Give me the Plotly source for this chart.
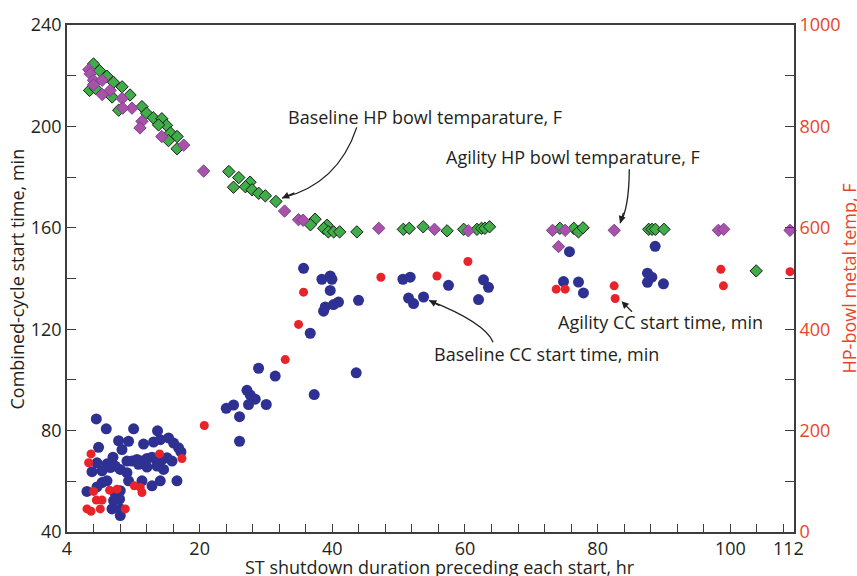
import plotly.graph_objects as go

# ---------------- data (x in axis units, see tick labels) ----------------
base_temp_x = [4.0, 4.9, 6.0, 7.0, 8.3, 9.5, 11.3, 12.0, 13.0, 14.3, 15.0, 13.8, 15.6, 16.6, 15.3, 16.6,
               3.4, 6.8, 7.8, 4.3,
               24.4, 25.9, 27.6, 25.1, 26.9, 27.9, 28.9, 29.9, 31.5, 37.4, 36.7, 39.2, 38.7, 39.4, 40.2,
               41.1, 43.7,
               50.7, 51.6, 53.7, 57.3, 59.8, 61.8, 62.5, 63.0, 63.7, 74.3, 76.4, 77.1, 77.8, 87.7, 88.2,
               88.7, 90.0, 103.9]
base_temp_f = [923, 910, 899, 887, 878, 862, 839, 826, 817, 815, 802, 803, 787, 780, 772, 756,
               871, 858, 832, 875,
               711, 699, 690, 680, 681, 675, 668, 663, 652, 617, 606, 605, 599, 592, 592,
               592, 592,
               597, 599, 602, 594, 597, 597, 599, 599, 602, 599, 599, 592, 600, 597, 597,
               597, 597, 515]

agil_temp_x = [3.3, 3.5, 4.0, 5.3, 4.0, 6.5, 5.3, 8.3, 9.8, 8.4, 11.3, 11.0, 14.3, 17.6, 20.6,
               32.8, 34.9, 35.6, 47.0, 55.4, 60.5, 73.2, 75.1, 74.1, 82.5, 98.2, 99.0, 109.0]
agil_temp_f = [912, 904, 891, 891, 882, 871, 863, 855, 836, 836, 810, 797, 780, 763, 712,
               633, 616, 615, 599, 597, 594, 595, 595, 563, 595, 595, 597, 595]

base_cc_x = [4.42, 5.92, 10.04, 13.65, 4.76, 7.78, 9.28, 11.54, 13.05, 14.06, 15.31, 16.07, 16.82, 17.18,
             8.29, 6.93, 4.52, 6.03, 9.04, 9.80, 10.55, 11.30, 12.06, 12.81, 13.56, 14.32, 15.07, 15.83,
             3.77, 5.28, 6.53, 7.28, 8.03, 9.04, 10.79, 12.06, 13.56, 14.56, 5.28, 6.03, 9.28, 11.30,
             12.81, 14.06, 16.58, 3.01, 4.52, 7.28, 8.03, 7.02, 7.93, 6.78, 8.03, 8.03,
             35.66, 38.43, 39.68, 39.94, 39.68, 43.95, 40.93, 40.18, 38.93, 38.68, 36.67, 28.88, 31.39,
             43.60, 37.27, 27.13, 27.63, 28.38, 27.37, 30.04, 25.11, 24.01, 26.01, 26.01,
             50.64, 51.74, 57.51, 62.79, 63.54, 62.04, 51.49, 52.24, 53.75, 75.75, 74.85, 77.11, 77.86,
             88.67, 87.51, 88.17, 87.51, 89.92]
base_cc_min = [84.6, 80.7, 80.7, 79.9, 73.4, 76.0, 75.8, 74.7, 75.5, 76.4, 77.1, 75.1, 73.2, 71.6,
               72.5, 69.5, 67.3, 66.9, 68.0, 68.0, 68.6, 68.0, 69.0, 69.5, 68.2, 68.6, 69.3, 68.0,
               63.8, 64.1, 65.4, 66.0, 64.7, 63.4, 66.7, 65.6, 66.0, 64.7, 59.5, 60.2, 60.2, 60.2,
               58.2, 60.2, 60.2, 56.0, 57.8, 55.2, 56.3, 52.4, 53.0, 49.1, 49.1, 46.5,
               144.0, 139.7, 141.0, 139.7, 135.3, 131.4, 130.7, 129.7, 128.8, 127.1, 118.4, 104.6, 101.5,
               102.8, 94.2, 95.9, 94.0, 92.4, 90.3, 90.3, 90.1, 88.8, 85.5, 75.8,
               139.7, 140.5, 137.3, 139.5, 136.5, 131.7, 132.3, 130.1, 132.7, 150.6, 138.8, 138.6, 134.3,
               152.7, 142.1, 140.5, 138.5, 137.9]

agil_cc_x = [20.7, 3.62, 3.26, 13.96, 17.33, 4.01, 6.42, 7.54, 10.14, 11.05, 11.30, 4.42, 5.28, 3.01,
             3.62, 5.02, 8.79,
             47.32, 35.66, 34.91, 32.90, 55.77, 60.44, 73.75, 75.10, 82.49, 82.64, 98.57, 98.96, 109.0]
agil_cc_min = [82.0, 70.8, 67.3, 70.8, 69.0, 56.0, 56.5, 56.9, 58.2, 57.6, 55.6, 52.6, 52.6, 49.1,
               48.2, 49.1, 49.1,
               140.5, 134.6, 121.9, 108.0, 141.0, 146.7, 135.8, 135.8, 137.1, 132.1, 143.6, 137.1, 142.7]

x_tick_vals = [0, 20, 40, 60, 80, 100]
x_tick_text = ["4", "20", "40", "60", "80", "100"]
x_end_label_pos = 108.8
x_end_label = "112"

# ---------------- style ----------------
FONT = "Open Sans"
TXT = "#231f20"
RED_TXT = "#e8452c"
AX = "#3d3d3d"

fig = go.Figure()
fig.add_trace(go.Scatter(x=base_cc_x, y=base_cc_min, mode="markers", cliponaxis=False,
                         marker=dict(color="#2e3192", size=11), name="Baseline CC start time, min"))
fig.add_trace(go.Scatter(x=agil_cc_x, y=agil_cc_min, mode="markers", cliponaxis=False,
                         marker=dict(color="#e8232a", size=9), name="Agility CC start time, min"))
fig.add_trace(go.Scatter(x=base_temp_x, y=base_temp_f, yaxis="y2", mode="markers", cliponaxis=False,
                         marker=dict(symbol="diamond", color="#3fae49", size=9.5,
                                     line=dict(color="#1a1a1a", width=1)),
                         name="Baseline HP bowl temparature, F"))
fig.add_trace(go.Scatter(x=agil_temp_x, y=agil_temp_f, yaxis="y2", mode="markers", cliponaxis=False,
                         marker=dict(symbol="diamond", color="#a852a8", size=9.5,
                                     line=dict(color="#7b3f95", width=1)),
                         name="Agility HP bowl temparature, F"))

tickfont = dict(family=FONT, size=18, color=TXT)
fig.update_layout(
    width=857, height=576,
    margin=dict(l=67, r=63, t=19, b=44),
    paper_bgcolor="white", plot_bgcolor="white",
    showlegend=False,
    font=dict(family=FONT, size=18, color=TXT),
    xaxis=dict(range=[0, 109.6], showline=True, linecolor=AX, linewidth=1.6, mirror=True,
               ticks="inside", ticklen=8, tickcolor=AX, tickwidth=1.2,
               tickvals=x_tick_vals, ticktext=x_tick_text, tickfont=tickfont,
               minor=dict(tick0=0, dtick=4, ticks="inside", ticklen=8, tickcolor=AX, tickwidth=1.2),
               showgrid=False, zeroline=False),
    yaxis=dict(range=[40, 240], tick0=40, dtick=40, showline=True, linecolor=AX, linewidth=1.6,
               ticks="inside", ticklen=9, tickcolor=AX, tickwidth=1.2, tickfont=tickfont,
               minor=dict(dtick=20, ticks="inside", ticklen=9, tickcolor=AX, tickwidth=1.2),
               showgrid=False, zeroline=False),
    yaxis2=dict(range=[0, 1000], tick0=0, dtick=200, overlaying="y", side="right",
                showline=True, linecolor=AX, linewidth=1.6,
                ticks="inside", ticklen=9, tickcolor=AX, tickwidth=1.2,
                tickfont=dict(family=FONT, size=18, color=RED_TXT),
                minor=dict(dtick=100, ticks="inside", ticklen=9, tickcolor=AX, tickwidth=1.2),
                showgrid=False, zeroline=False),
)

# curved leader lines (quadratic beziers in data coords of x / y)
curves = [
    ((43.68, 199.6), (40.86, 177.2), (32.41, 171.7)),
    ((84.77, 183.1), (84.73, 167.5), (83.37, 161.8)),
    ((64.23, 114.9), (63.02, 122.65), (54.58, 131.4)),
]
for (s, c, e) in curves:
    fig.add_shape(type="path", xref="x", yref="y",
                  path=f"M {s[0]},{s[1]} Q {c[0]},{c[1]} {e[0]},{e[1]}",
                  line=dict(color=TXT, width=1.3))

# arrow heads
heads = [((32.41, 171.7), 14, -6), ((83.37, 161.8), 4, -12), ((54.58, 131.4), 12, 6),
         ((83.6, 131.0), 12, 12)]
for (p, ax, ay) in heads:
    fig.add_annotation(x=p[0], y=p[1], xref="x", yref="y", text="", showarrow=True,
                       ax=ax, ay=ay, arrowhead=2, arrowsize=1.1, arrowwidth=1.3, arrowcolor=TXT)

labels = [
    ("Baseline HP bowl temparature, F", 53.97, 203.9),
    ("Agility HP bowl temparature, F", 76.29, 187.9),
    ("Agility CC start time, min", 89.48, 123.0),
    ("Baseline CC start time, min", 72.29, 110.2),
]
for (t, x, y) in labels:
    fig.add_annotation(x=x, y=y, xref="x", yref="y", text=t, showarrow=False,
                       xanchor="center", yanchor="middle", font=dict(family=FONT, size=18, color=TXT))

# axis titles
fig.add_annotation(text="Combined-cycle start time, min", xref="paper", yref="paper",
                   x=-0.0688, y=0.5, textangle=-90, showarrow=False, xanchor="center", yanchor="middle",
                   font=dict(family=FONT, size=18, color=TXT))
fig.add_annotation(text="HP-bowl metal temp, F", xref="paper", yref="paper",
                   x=1.0743, y=0.5, textangle=-90, showarrow=False, xanchor="center", yanchor="middle",
                   font=dict(family=FONT, size=18, color=RED_TXT))
fig.add_annotation(text="ST shutdown duration preceding each start, hr", xref="paper", yref="paper",
                   x=0.513, y=-0.0682, showarrow=False, xanchor="center", yanchor="middle",
                   font=dict(family=FONT, size=18, color=TXT))
fig.add_annotation(text=x_end_label, xref="x", yref="paper", x=x_end_label_pos, y=0,
                   yanchor="top", yshift=-2, showarrow=False, font=tickfont)

fig.write_html("out.html", config={"displayModeBar": False},
               post_script="document.body.style.margin='0';document.body.style.overflow='hidden';")
